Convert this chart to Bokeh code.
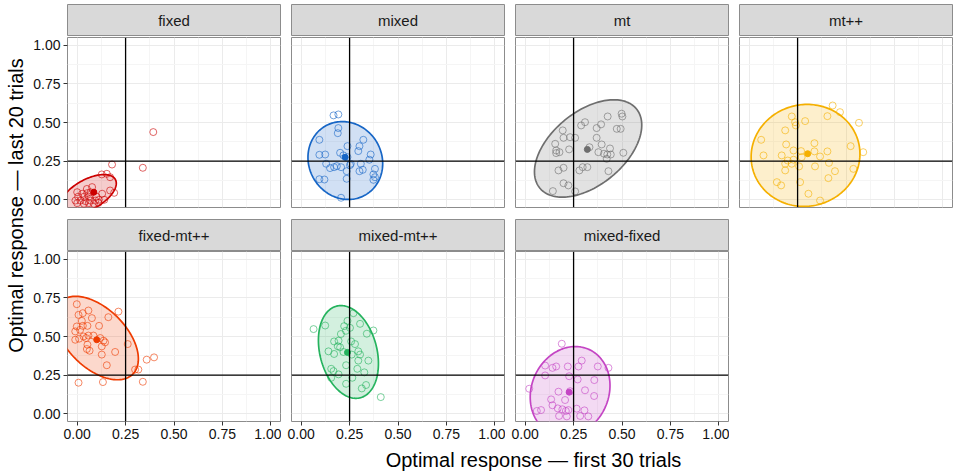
import numpy as np
from bokeh.plotting import figure
from bokeh.models import (Range1d, FixedTicker, Span, Label, Grid, LinearAxis,
                          NumeralTickFormatter)
from bokeh.layouts import row, column
from bokeh.embed import file_html
from bokeh.resources import INLINE

# ---------------- data ----------------
panel_names = ["fixed", "mixed", "mt", "mt++", "fixed-mt++", "mixed-mt++", "mixed-fixed"]
panel_colors = ["#CC0000", "#1766C6", "#6E6E6E", "#F5B000", "#EE3B00", "#25B35E", "#C445C4"]

fixed_x = [0.393, 0.339, 0.180, 0.127, 0.153, 0.170, 0.170, 0.191, 0.000, 0.026, 0.052, 0.069,
           -0.009, 0.017, 0.043, 0.069, 0.094, 0.112, 0.000, 0.035, 0.060, 0.086, 0.129, 0.077,
           0.050, 0.035, 0.100, 0.110, 0.140, 0.005, 0.060]
fixed_y = [0.438, 0.207, 0.228, 0.164, 0.168, 0.146, 0.060, 0.045, 0.049, 0.039, 0.043, 0.049,
           -0.005, -0.005, -0.009, -0.005, -0.005, 0.000, -0.022, -0.026, -0.022, -0.026, 0.039, 0.082,
           0.070, 0.020, 0.020, -0.020, 0.000, 0.020, 0.020]

mixed_x = [0.167, 0.192, 0.192, 0.189, 0.094, 0.321, 0.301, 0.239, 0.295, 0.094, 0.124, 0.201,
           0.359, 0.352, 0.129, 0.149, 0.170, 0.184, 0.206, 0.256, 0.308, 0.381, 0.301, 0.318,
           0.235, 0.235, 0.373, 0.381, 0.373, 0.094, 0.120, 0.206, 0.218, 0.239, 0.252]
mixed_y = [0.546, 0.552, 0.464, 0.431, 0.388, 0.388, 0.347, 0.347, 0.315, 0.291, 0.293, 0.304,
           0.293, 0.259, 0.233, 0.205, 0.211, 0.218, 0.211, 0.233, 0.233, 0.200, 0.185, 0.194,
           0.185, 0.136, 0.164, 0.146, 0.129, 0.133, 0.131, 0.013, 0.287, 0.276, 0.224]

mt_x = [0.498, 0.502, 0.426, 0.309, 0.289, 0.392, 0.369, 0.473, 0.493, 0.194, 0.232, 0.258,
        0.198, 0.369, 0.155, 0.227, 0.160, 0.177, 0.160, 0.395, 0.438, 0.378, 0.407, 0.424,
        0.442, 0.507, 0.332, 0.421, 0.172, 0.198, 0.280, 0.297, 0.321, 0.430, 0.198, 0.223,
        0.143, 0.258]
mt_y = [0.557, 0.539, 0.539, 0.502, 0.481, 0.488, 0.464, 0.459, 0.459, 0.449, 0.405, 0.401,
        0.401, 0.401, 0.362, 0.326, 0.319, 0.308, 0.302, 0.358, 0.332, 0.308, 0.298, 0.293,
        0.293, 0.304, 0.340, 0.265, 0.190, 0.207, 0.190, 0.211, 0.211, 0.185, 0.107, 0.093,
        0.056, 0.054]

mtpp_x = [0.431, 0.469, 0.404, 0.220, 0.289, 0.237, 0.241, 0.567, 0.186, 0.062, 0.191, 0.337,
          0.524, 0.589, 0.229, 0.268, 0.337, 0.404, 0.074, 0.168, 0.199, 0.229, 0.271, 0.366,
          0.412, 0.186, 0.220, 0.258, 0.186, 0.340, 0.443, 0.538, 0.409, 0.143, 0.165, 0.263,
          0.306, 0.366]
mtpp_y = [0.610, 0.567, 0.541, 0.539, 0.509, 0.502, 0.481, 0.498, 0.449, 0.388, 0.358, 0.366,
          0.347, 0.308, 0.319, 0.315, 0.313, 0.313, 0.287, 0.287, 0.254, 0.259, 0.276, 0.280,
          0.239, 0.233, 0.233, 0.216, 0.190, 0.216, 0.185, 0.200, 0.140, 0.114, 0.093, 0.114,
          0.039, -0.005]

fixmt_x = [-0.002, 0.007, 0.029, 0.058, 0.024, 0.076, 0.161, 0.213, -0.002, 0.029, 0.053, 0.113,
           -0.010, 0.015, 0.033, 0.058, 0.084, -0.010, 0.010, 0.046, 0.119, 0.136, 0.144, 0.053,
           0.050, 0.064, 0.127, 0.127, 0.196, 0.153, 0.261, 0.299, 0.316, 0.359, 0.397, 0.339,
           0.007, 0.133]
fixmt_y = [0.709, 0.640, 0.651, 0.668, 0.601, 0.619, 0.625, 0.661, 0.565, 0.569, 0.569, 0.569,
           0.533, 0.543, 0.500, 0.506, 0.506, 0.479, 0.486, 0.490, 0.490, 0.473, 0.462, 0.447,
           0.419, 0.408, 0.436, 0.383, 0.400, 0.314, 0.451, 0.286, 0.286, 0.350, 0.365, 0.207,
           0.201, 0.205]

mixmt_x = [0.064, 0.124, 0.270, 0.239, 0.304, 0.222, 0.205, 0.231, 0.339, 0.373, 0.170, 0.193,
           0.258, 0.278, 0.201, 0.141, 0.170, 0.218, 0.261, 0.295, 0.304, 0.347, 0.295, 0.155,
           0.167, 0.193, 0.155, 0.232, 0.290, 0.326, 0.264, 0.232, 0.313, 0.335, 0.411, 0.252,
           0.189]
mixmt_y = [0.548, 0.571, 0.651, 0.601, 0.582, 0.567, 0.516, 0.537, 0.518, 0.539, 0.468, 0.473,
           0.468, 0.451, 0.430, 0.404, 0.387, 0.400, 0.383, 0.404, 0.383, 0.344, 0.344, 0.291,
           0.276, 0.255, 0.233, 0.314, 0.291, 0.268, 0.233, 0.194, 0.164, 0.186, 0.108, 0.556,
           0.437]

mixfix_x = [0.189, 0.292, 0.103, 0.141, 0.160, 0.220, 0.275, 0.375, 0.430, 0.103, 0.227, 0.271,
            0.357, 0.021, 0.172, 0.309, 0.356, 0.134, 0.206, 0.141, 0.168, 0.192, 0.210, 0.223,
            0.266, 0.306, 0.060, 0.082, 0.175, 0.215, 0.284, 0.326, 0.232]
mixfix_y = [0.453, 0.344, 0.312, 0.297, 0.306, 0.306, 0.306, 0.306, 0.297, 0.248, 0.243, 0.222,
            0.218, 0.162, 0.143, 0.152, 0.115, 0.093, 0.089, 0.055, 0.035, 0.029, 0.018, 0.024,
            0.033, 0.022, 0.018, 0.024, -0.014, -0.017, -0.014, -0.017, 0.146]

panel_x = [fixed_x, mixed_x, mt_x, mtpp_x, fixmt_x, mixmt_x, mixfix_x]
panel_y = [fixed_y, mixed_y, mt_y, mtpp_y, fixmt_y, mixmt_y, mixfix_y]

# group means (filled points)
mean_x = [0.086, 0.227, 0.321, 0.302, 0.101, 0.239, 0.227]
mean_y = [0.049, 0.275, 0.326, 0.298, 0.479, 0.397, 0.140]

# ellipse parameters: centre, half-extents, correlation
ell_cx = [0.057, 0.228, 0.325, 0.291, 0.100, 0.244, 0.232]
ell_cy = [0.034, 0.254, 0.332, 0.287, 0.490, 0.400, 0.145]
ell_rx = [0.145, 0.193, 0.277, 0.281, 0.216, 0.155, 0.206]
ell_ry = [0.129, 0.252, 0.315, 0.330, 0.270, 0.300, 0.290]
ell_rho = [0.56, -0.08, 0.48, 0.03, -0.50, -0.25, 0.13]

ref_x = 0.25
ref_y = 0.25
tick_values = [0.0, 0.25, 0.5, 0.75, 1.0]
tick_labels = ["0.00", "0.25", "0.50", "0.75", "1.00"]
minor_values = [0.125, 0.375, 0.625, 0.875]
axis_lim = (-0.05, 1.05)

x_title = "Optimal response \u2014 first 30 trials"
y_title = "Optimal response \u2014 last 20 trials"

# ---------------- styling / layout ----------------
FONT = "Liberation Sans"
FRAME_W = 213
FRAME_H = 170
STRIP_H = 32
TOP_PAD = 4
YT_W = 28
LEFT_AX = 39
COL_GAP = 10
ROW_GAP = 12
BOTTOM_AX = 25
XT_H = 28
BORDER = "#8C8C8C"


def ellipse_xy(cx, cy, rx, ry, rho, n=160):
    t = np.linspace(0, 2 * np.pi, n)
    ex = cx + rx * np.cos(t)
    ey = cy + ry * (rho * np.cos(t) + np.sqrt(1 - rho ** 2) * np.sin(t))
    return ex, ey


def make_strip(i, col, top):
    s = figure(title=None, frame_width=FRAME_W, frame_height=STRIP_H,
               x_range=Range1d(0, 1), y_range=Range1d(0, 1),
               x_axis_type=None, y_axis_type=None, toolbar_location=None,
               output_backend="svg",
               min_border_left=LEFT_AX if col == 0 else COL_GAP, min_border_right=1,
               min_border_top=top, min_border_bottom=0)
    s.background_fill_color = "#D9D9D9"
    s.border_fill_color = "white"
    s.outline_line_color = BORDER
    s.add_layout(Label(x=0.5, y=0.5, text=panel_names[i], text_align="center",
                       text_baseline="middle", text_font=FONT, text_font_size="15px",
                       text_font_style="normal", text_color="#1A1A1A"))
    return s


def make_panel(i, col, show_x, show_y, top):
    c = panel_colors[i]
    p = figure(title=None, frame_width=FRAME_W, frame_height=FRAME_H,
               x_range=Range1d(*axis_lim), y_range=Range1d(*axis_lim),
               x_axis_type=None, y_axis_type=None, toolbar_location=None,
               output_backend="svg",
               min_border_left=LEFT_AX if col == 0 else COL_GAP, min_border_right=1,
               min_border_top=top, min_border_bottom=BOTTOM_AX if show_x else ROW_GAP)
    p.outline_line_color = BORDER
    p.background_fill_color = "white"
    p.border_fill_color = "white"
    for dim in (0, 1):
        g = Grid(dimension=dim, ticker=FixedTicker(ticks=tick_values, minor_ticks=minor_values),
                 grid_line_color="#EBEBEB", grid_line_width=1,
                 minor_grid_line_color="#F5F5F5", minor_grid_line_width=1)
        p.add_layout(g, "center")

    overrides = {v: lab for v, lab in zip(tick_values, tick_labels)}

    def style_axis(ax):
        ax.ticker = FixedTicker(ticks=tick_values)
        ax.formatter = NumeralTickFormatter(format="0.00")
        ax.major_label_overrides = overrides
        ax.axis_line_color = None
        ax.major_tick_line_color = "#333333"
        ax.major_tick_out = 4
        ax.major_tick_in = 0
        ax.minor_tick_line_color = None
        ax.major_label_standoff = 3
        ax.major_label_text_font = FONT
        ax.major_label_text_font_size = "14px"
        ax.major_label_text_color = "#111111"

    if show_y:
        ya = LinearAxis()
        style_axis(ya)
        p.add_layout(ya, "left")
    if show_x:
        xa = LinearAxis()
        style_axis(xa)
        p.add_layout(xa, "below")

    ex, ey = ellipse_xy(ell_cx[i], ell_cy[i], ell_rx[i], ell_ry[i], ell_rho[i])
    p.patch(ex, ey, fill_color=c, fill_alpha=0.2, line_color=c, line_width=1.7)
    p.scatter(panel_x[i], panel_y[i], size=7, marker="circle", fill_color=None,
              line_color=c, line_alpha=0.6, line_width=1)
    p.scatter([mean_x[i]], [mean_y[i]], size=6, marker="circle", fill_color=c,
              line_color=c)

    p.add_layout(Span(location=ref_x, dimension="height", line_color="black", line_width=1.3))
    p.add_layout(Span(location=ref_y, dimension="width", line_color="black", line_width=1.3))
    return p


row1 = []
for col in range(4):
    i = col
    row1.append(column(make_strip(i, col, TOP_PAD),
                       make_panel(i, col, show_x=False, show_y=(col == 0), top=1)))
row2 = []
for col in range(3):
    i = 4 + col
    row2.append(column(make_strip(i, col, 0),
                       make_panel(i, col, show_x=True, show_y=(col == 0), top=0)))

grid = column(row(*row1), row(*row2))

GRID_W = (LEFT_AX + FRAME_W + 1) + 3 * (COL_GAP + FRAME_W + 1)
GRID_H = TOP_PAD + STRIP_H + 1 + FRAME_H + ROW_GAP + STRIP_H + FRAME_H + BOTTOM_AX
TOTAL_W = YT_W + GRID_W

# rotated y-axis title (y measured in pixels from bottom of this strip)
yt = figure(title=None, width=YT_W, height=GRID_H, x_range=Range1d(0, YT_W),
            y_range=Range1d(0, GRID_H),
            x_axis_type=None, y_axis_type=None, toolbar_location=None, output_backend="svg",
            min_border=0)
yt.outline_line_color = None
yt.add_layout(Label(x=15, y=GRID_H - 205, text=y_title, angle=np.pi / 2, text_align="center",
                    text_baseline="middle", text_font=FONT, text_font_size="20px",
                    text_color="black"))

# x-axis title
xt = figure(title=None, width=TOTAL_W, height=XT_H, x_range=Range1d(0, TOTAL_W),
            y_range=Range1d(0, XT_H),
            x_axis_type=None, y_axis_type=None, toolbar_location=None, output_backend="svg",
            min_border=0)
xt.outline_line_color = None
xt.add_layout(Label(x=533, y=XT_H - 13, text=x_title, text_align="center",
                    text_baseline="middle", text_font=FONT, text_font_size="20px",
                    text_color="black"))

layout = column(row(yt, grid), xt)

open("out.html", "w").write(file_html(layout, INLINE))
